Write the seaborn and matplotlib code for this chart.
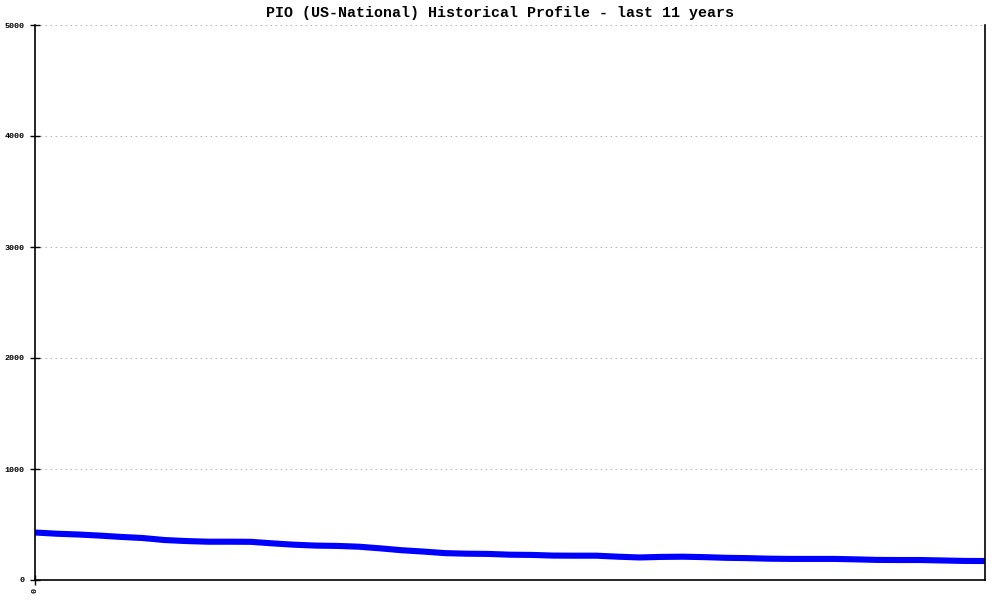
import numpy as np
import pandas as pd
import matplotlib
matplotlib.use("Agg")
import matplotlib.pyplot as plt
import seaborn as sns

# ── data (monthly index, sampled every 3 months over 11 years) ────────────────
months = list(range(0, 133, 3))
values = [428, 417, 410, 400, 388, 378, 360, 351, 345, 345,
          344, 330, 318, 310, 307, 300, 285, 268, 256, 242,
          237, 235, 228, 226, 220, 219, 219, 210, 203, 208,
          210, 206, 200, 197, 192, 190, 190, 190, 186, 181,
          180, 180, 176, 172, 171]
yticks = [0, 1000, 2000, 3000, 4000, 5000]
title = "PIO (US-National) Historical Profile - last 11 years"

df = pd.DataFrame({"month": months, "value": values})

sns.set_style("white")
plt.rcParams["font.family"] = ["Liberation Mono", "DejaVu Sans Mono"]
plt.rcParams["text.color"] = "black"
plt.rcParams["xtick.color"] = "black"
plt.rcParams["ytick.color"] = "black"

fig = plt.figure(figsize=(10, 6), dpi=100)
ax = fig.add_axes([0.035, 1 - 580 / 600, 0.95, 555 / 600])

sns.lineplot(data=df, x="month", y="value", ax=ax, color="#0000ff",
             linewidth=4.4, solid_capstyle="butt")

ax.set_xlim(0, 132)
ax.set_ylim(0, 5000)
ax.set_yticks(yticks)
ax.set_yticklabels([str(t) for t in yticks], fontsize=6, fontweight="bold")
ax.set_xticks([0])
ax.set_xticklabels(["0"], rotation=90, fontsize=6, fontweight="bold")
ax.set_xlabel("")
ax.set_ylabel("")

for t in yticks[1:]:
    ax.axhline(t, color="#bbbbbb", linestyle=(0, (1.5, 3)), linewidth=0.8, zorder=0)

ax.tick_params(axis="both", direction="inout", length=7, width=1,
               color="black", labelcolor="black", pad=2, left=True, bottom=True)
ax.tick_params(axis="y", pad=4)
for side in ["left", "bottom", "right"]:
    ax.spines[side].set_color("black")
    ax.spines[side].set_linewidth(1.2)
ax.spines["top"].set_visible(False)

fig.text(0.5, 1 - 13 / 600, title, ha="center", va="center",
         fontsize=10.8, fontweight="bold", color="black")

fig.savefig("out.png", dpi=100)
